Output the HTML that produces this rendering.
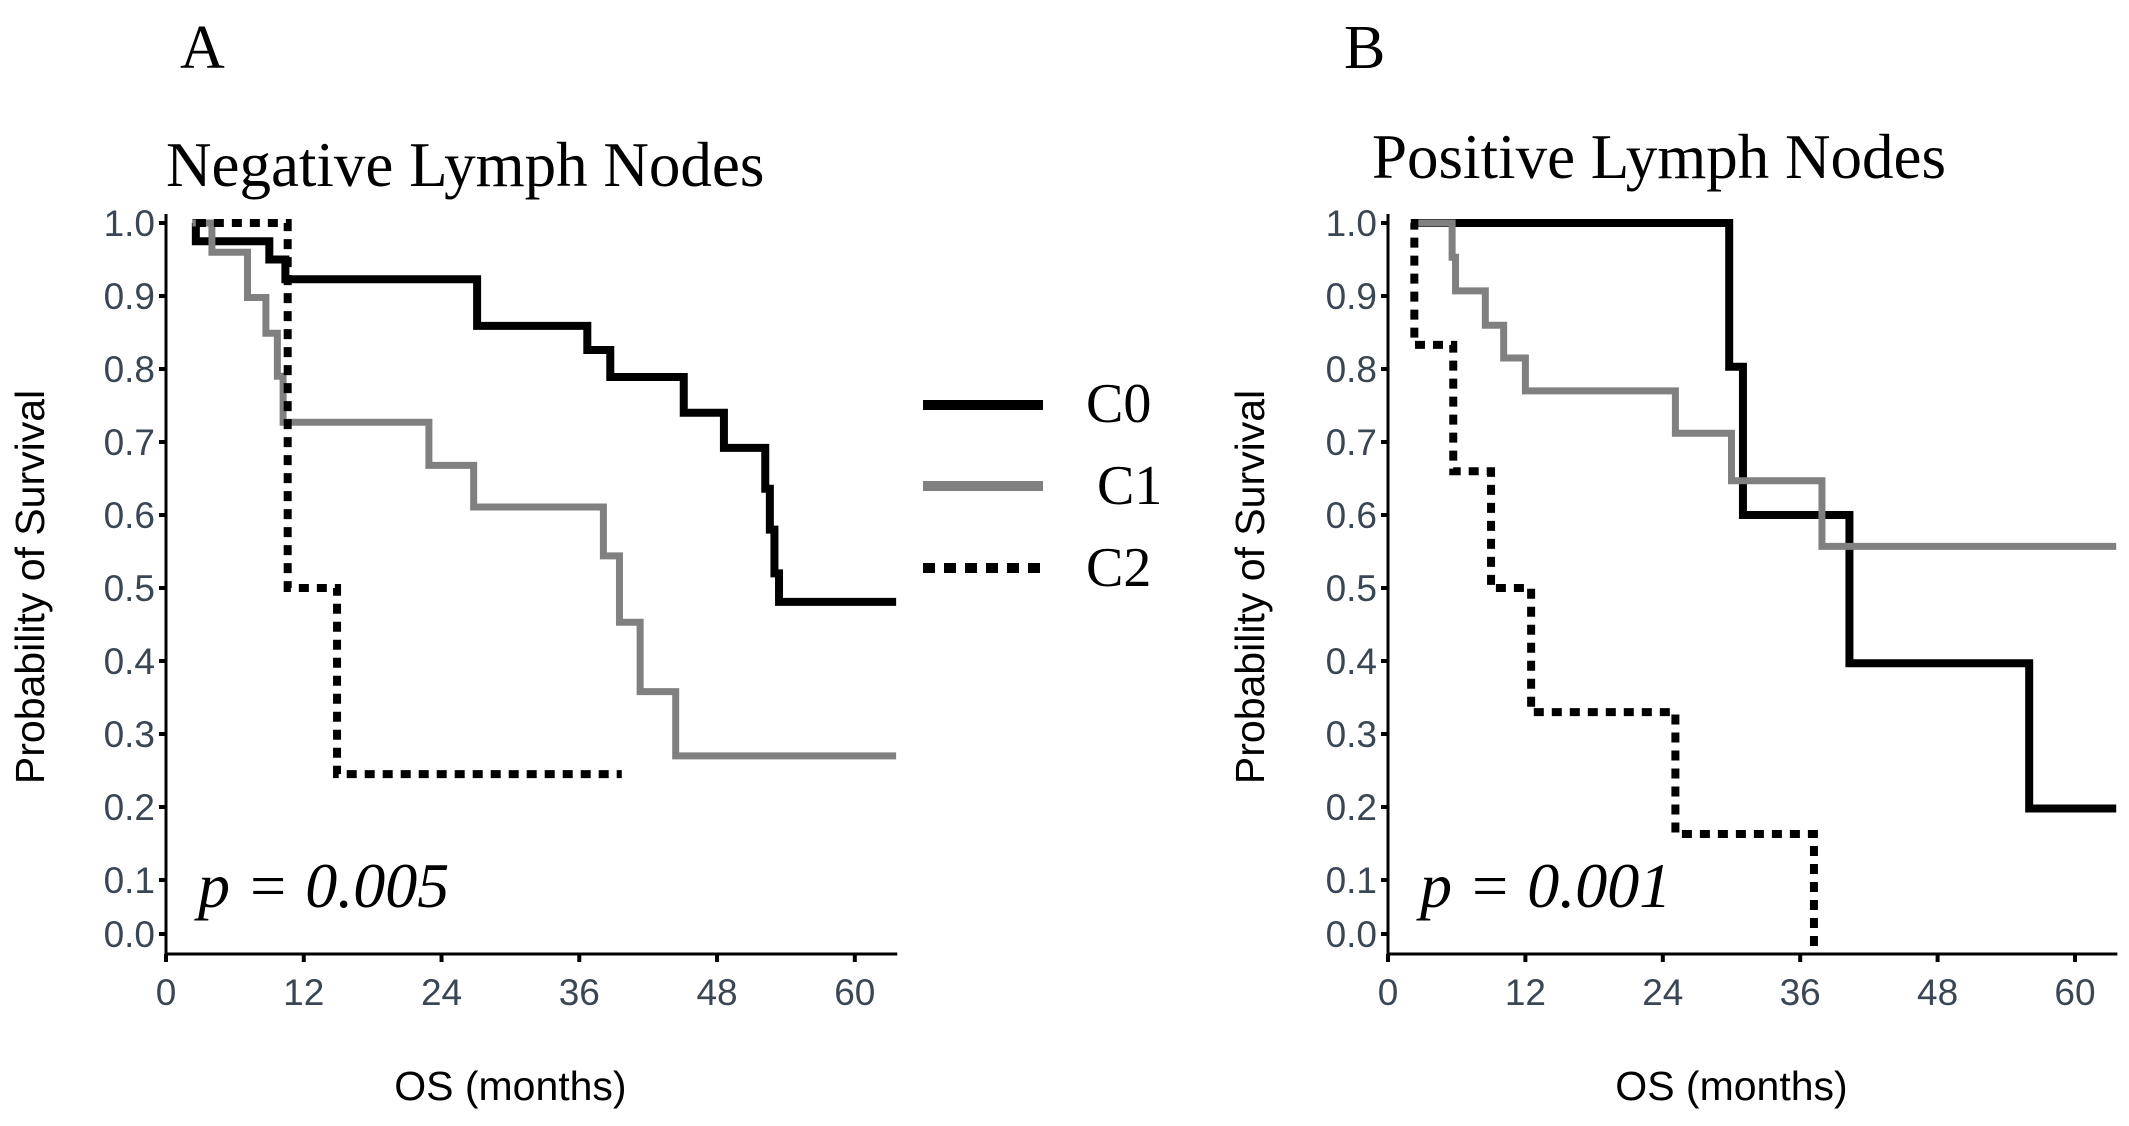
<!DOCTYPE html>
<html><head><meta charset="utf-8"><style>
html,body{margin:0;padding:0;background:#fff;}
svg{display:block;}
.tick{font-family:"Liberation Sans",sans-serif;font-size:37px;fill:#3a4654;}
.ttl{font-family:"Liberation Serif",serif;font-size:63px;fill:#000;}
.ax{font-family:"Liberation Sans",sans-serif;font-size:41px;fill:#000;}
</style></head><body>
<svg id="chart" width="2129" height="1126" viewBox="0 0 2129 1126" xmlns="http://www.w3.org/2000/svg">
<text x="180" y="68" font-family="Liberation Serif,serif" font-size="62">A</text>
<text x="1344" y="68" font-family="Liberation Serif,serif" font-size="62">B</text>
<text class="ttl" x="166" y="186">Negative Lymph Nodes</text>
<text class="ttl" x="1372" y="178">Positive Lymph Nodes</text>
<g id="plots"></g>
<g>
<line x1="923" y1="405" x2="1043" y2="405" stroke="#000" stroke-width="10"/>
<text x="1086" y="422" font-family="Liberation Serif,serif" font-size="56">C0</text>
<line x1="923" y1="486" x2="1043" y2="486" stroke="#808080" stroke-width="10"/>
<text x="1097" y="504" font-family="Liberation Serif,serif" font-size="56">C1</text>
<line x1="923" y1="568" x2="1043" y2="568" stroke="#000" stroke-width="10" stroke-dasharray="12,9"/>
<text x="1086" y="586" font-family="Liberation Serif,serif" font-size="56">C2</text>
</g>
</svg>
<script>
const yTicks = [1.0,0.9,0.8,0.7,0.6,0.5,0.4,0.3,0.2,0.1,0.0];
const xTicks = [0,12,24,36,48,60];
// Panel A
const aC0t = [2.3,2.6,9.0,10.4,27.1,36.7,38.7,45.1,48.6,52.2,52.6,53.0,53.4];
const aC0v = [1.0,0.975,0.95,0.923,0.859,0.826,0.789,0.74,0.692,0.636,0.58,0.52,0.481];
const aC1t = [2.3,4.0,7.1,8.7,9.7,10.2,22.9,26.8,38.1,39.5,41.3,44.4];
const aC1v = [1.0,0.96,0.898,0.849,0.79,0.727,0.668,0.611,0.544,0.453,0.358,0.27];
const aC2t = [2.6,10.6,14.9];
const aC2v = [1.0,0.5,0.245];
const aEnd = [63.6,63.6,39.7];
// Panel B
const bC0t = [2.0,29.8,31.0,40.3,56.0];
const bC0v = [1.0,0.803,0.6,0.397,0.198];
const bC1t = [2.0,5.6,5.9,8.5,10.1,12.0,25.1,30.0,37.9];
const bC1v = [1.0,0.953,0.907,0.86,0.815,0.77,0.712,0.647,0.557];
const bC2t = [2.0,2.3,5.7,9.0,12.5,25.1,37.2];
const bC2v = [1.0,0.833,0.66,0.5,0.33,0.163,0.0];
const bEnd = [63.6,63.6,37.2];

const NS="http://www.w3.org/2000/svg";
const root=document.getElementById('plots');
function yS(v){ return v>=0.1 ? 223+(1-v)*730 : 934-540*v; }
function mk(tag,attrs,parent){const e=document.createElementNS(NS,tag);for(const k in attrs)e.setAttribute(k,attrs[k]);parent.appendChild(e);return e;}
function panel(id,x0,ppm,series,ends,pText,yTitleX){
  const g=mk('g',{},root);
  
  
  const xS=t=>x0+t*ppm;
  const ax=mk('path',{d:`M${x0},214 V954 H${xS(63.7)}`,fill:'none',stroke:'#000','stroke-width':3},g);
  
  
  yTicks.forEach(v=>{
    const y=yS(v);
    const tk=mk('line',{x1:x0-7,x2:x0,y1:y,y2:y,stroke:'#000','stroke-width':4},g);
    
    
    const t=mk('text',{x:x0-11,y:y+13,class:'tick','text-anchor':'end'},g);
    t.textContent=v.toFixed(1);
    
    
  });
  xTicks.forEach(v=>{
    const x=xS(v);
    const tk=mk('line',{x1:x,x2:x,y1:954,y2:962,stroke:'#000','stroke-width':4},g);
    
    
    const t=mk('text',{x:x,y:1005,class:'tick','text-anchor':'middle'},g);
    t.textContent=v;
    
    
  });
  const styles=[{s:'#000',w:8,d:''},{s:'#808080',w:7,d:''},{s:'#000',w:8,d:'10,8'}];
  series.forEach((sr,i)=>{
    const [ts,vs]=sr;
    let d=`M${xS(ts[0])},${yS(vs[0])}`;
    for(let k=1;k<ts.length;k++){d+=` H${xS(ts[k])} V${yS(vs[k])}`;}
    if(vs[vs.length-1]===0) d+=` V954`;
    else d+=` H${xS(ends[i])}`;
    const p=mk('path',{d:d,fill:'none',stroke:styles[i].s,'stroke-width':styles[i].w},g);
    if(styles[i].d)p.setAttribute('stroke-dasharray',styles[i].d);
    
    
  });
  const pt=mk('text',{x:x0+32,y:907,'font-family':'Liberation Serif,serif','font-size':64,'font-style':'italic'},g);
  pt.textContent=pText;
  
  
  const yt=mk('text',{x:0,y:0,class:'ax','text-anchor':'middle',transform:`translate(${yTitleX},587) rotate(-90)`},g);
  yt.textContent='Probability of Survival';
  
  
  const xt=mk('text',{x:xS(30),y:1100,class:'ax','text-anchor':'middle'},g);
  xt.textContent='OS (months)';
  
  
}
panel('a',166,11.48,[[aC0t,aC0v],[aC1t,aC1v],[aC2t,aC2v]],aEnd,'p = 0.005',44);
panel('b',1388,11.45,[[bC0t,bC0v],[bC1t,bC1v],[bC2t,bC2v]],bEnd,'p = 0.001',1264);
</script>
</body></html>
